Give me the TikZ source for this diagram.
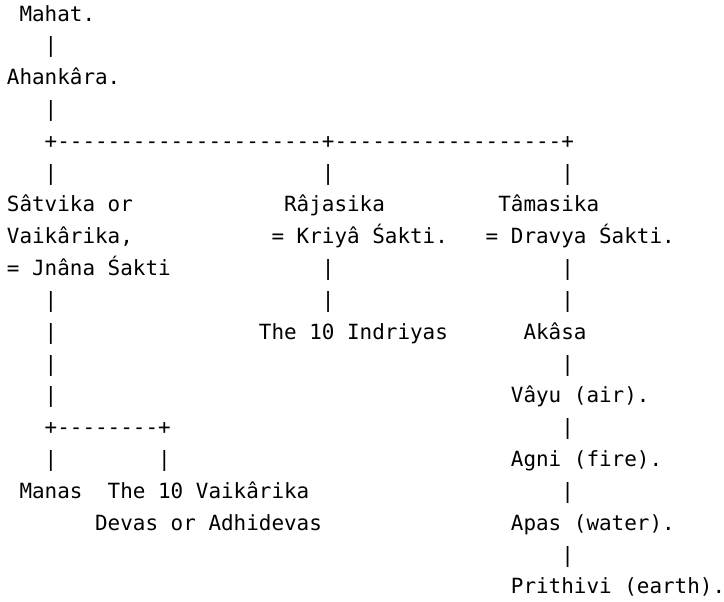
\documentclass[tikz,border=0pt]{standalone}
\usepackage{fontspec}
\setmonofont{DejaVu Sans Mono}
\usetikzlibrary{calc}
\tikzset{
  txt/.style={anchor=base west, inner sep=0pt, outer sep=0pt, text=black,
    font=\ttfamily\fontsize{20.93}{25}\selectfont}
}

\begin{document}
\begin{tikzpicture}[x=12.6pt, y=-31.83pt]
        \useasboundingbox (-0.548,-0.66) rectangle (56.913,18.253);

        \node[txt] at (1,0) (mahat) {Mahat.};
        \node[txt] at (0,2) (ahankara) {Ahankâra.};

        \node[txt] at (0,6) (satvika) {Sâtvika or};
        \node[txt] at (0,7) (vaikarika) {Vaikârika,};
        \node[txt] at (0,8) (jnana) {= Jnâna Śakti};
        \node[txt] at (22,6) (rajasika) {Râjasika};
        \node[txt] at (21,7) (kriya) {= Kriyâ Śakti.};
        \node[txt] at (39,6) (tamasika) {Tâmasika};
        \node[txt] at (38,7) (dravya) {= Dravya Śakti.};

        \node[txt] at (20,10) (indriyas) {The 10 Indriyas};
        \node[txt] at (41,10) (akasa) {Akâsa};
        \node[txt] at (40,12) (vayu) {Vâyu (air).};
        \node[txt] at (40,14) (agni) {Agni (fire).};
        \node[txt] at (40,16) (apas) {Apas (water).};
        \node[txt] at (40,18) (prithivi) {Prithivi (earth).};

        \node[txt] at (1,15) (manas) {Manas};
        \node[txt] at (8,15) (devas) {The 10 Vaikârika};
        \node[txt] at (7,16) (adhidevas) {Devas or Adhidevas};

        % forks
        \node[txt] at (3,4) (forkl) {+};
        \node[txt] at (25,4) (forkm) {+};
        \node[txt] at (44,4) (forkr) {+};
        \foreach \c in {4,...,24} \node[txt] at (\c,4) {-};
        \foreach \c in {26,...,43} \node[txt] at (\c,4) {-};

        \node[txt] at (3,13) (splitl) {+};
        \node[txt] at (12,13) (splitr) {+};
        \foreach \c in {4,...,11} \node[txt] at (\c,13) {-};

        % stems
        \foreach \c/\r in {3/1, 3/3, 3/5, 25/5, 44/5, 25/8, 44/8, 3/9, 25/9, 44/9,
                           3/10, 3/11, 44/11, 3/12, 44/13, 3/14, 12/14, 44/15, 44/17}
            \node[txt] at (\c,\r) (stem-\c-\r) {|};
\end{tikzpicture}
\end{document}
